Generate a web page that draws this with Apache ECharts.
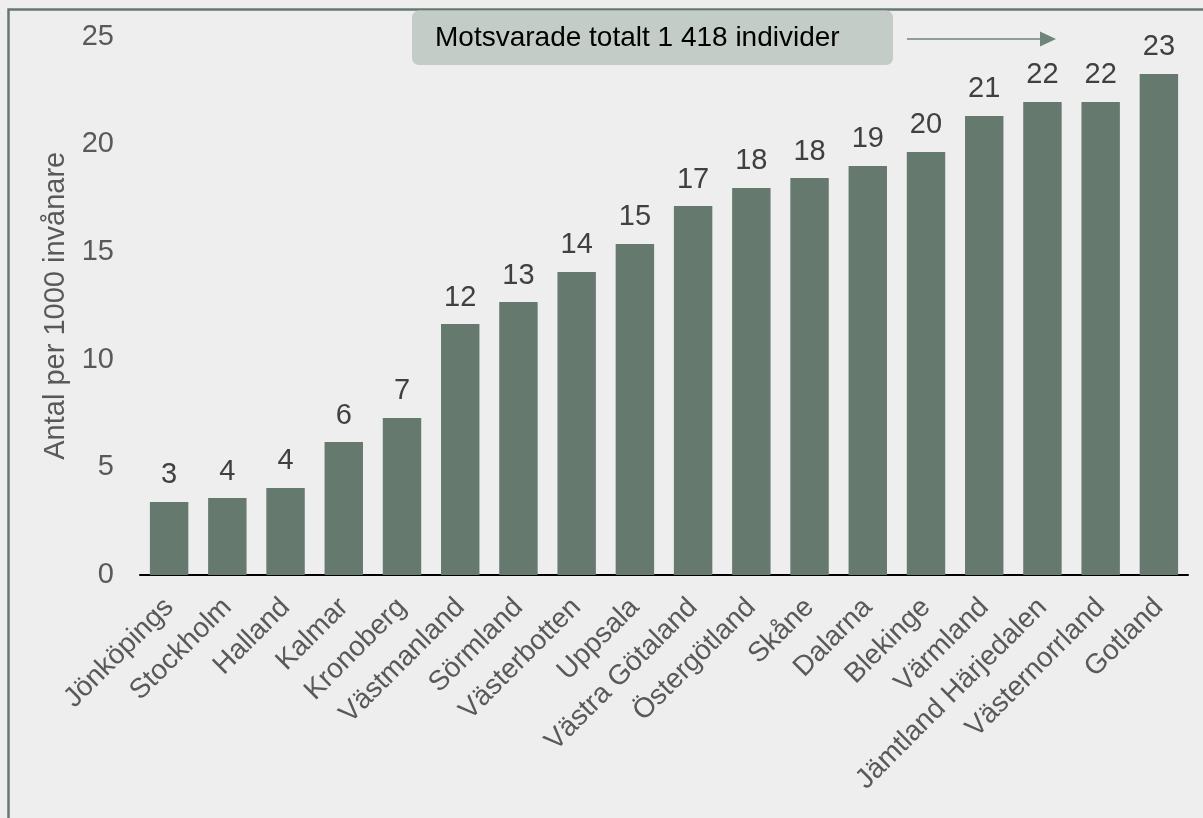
<!DOCTYPE html>
<html>
<head>
<meta charset="utf-8">
<script src="https://cdn.jsdelivr.net/npm/echarts@6/dist/echarts.min.js"></script>
<style>
html,body{margin:0;padding:0;background:#eeeeee;}
#chart{width:1203px;height:818px;}
</style>
</head>
<body>
<div id="chart"></div>
<script>
var categories = ['Jönköpings','Stockholm','Halland','Kalmar','Kronoberg','Västmanland','Sörmland','Västerbotten','Uppsala','Västra Götaland','Östergötland','Skåne','Dalarna','Blekinge','Värmland','Jämtland Härjedalen','Västernorrland','Gotland'];
var values = [3.39,3.57,4.04,6.17,7.29,11.65,12.67,14.07,15.37,17.13,17.97,18.43,18.99,19.64,21.31,21.96,21.96,23.26];
var yTicks = [0,5,10,15,20,25];
var yAxisName = 'Antal per 1000 invånare';
var noteText = 'Motsvarade totalt 1 418 individer';

var chart = echarts.init(document.getElementById('chart'), null, {renderer:'canvas'});
var font = 'Arial, "Liberation Sans", sans-serif';
chart.setOption({
  backgroundColor: '#eeeeee',
  animation: false,
  grid: {left: 140, right: 15, top: 36.5, bottom: 243, containLabel: false},
  xAxis: {
    type: 'category',
    data: categories,
    axisLine: {show: true, lineStyle: {color: '#000000', width: 2}},
    axisTick: {show: false},
    axisLabel: {rotate: 45, interval: 0, margin: 28, color: '#595959', fontSize: 28, fontFamily: font}
  },
  yAxis: {
    type: 'value',
    min: yTicks[0], max: yTicks[yTicks.length-1], interval: 5,
    name: yAxisName,
    nameLocation: 'middle',
    nameGap: 70,
    nameRotate: 90,
    nameTextStyle: {color: '#595959', fontSize: 29, fontFamily: font},
    axisLine: {show: false},
    axisTick: {show: false},
    splitLine: {show: false},
    axisLabel: {margin: 26, color: '#595959', fontSize: 29, fontFamily: font}
  },
  series: [{
    type: 'bar',
    data: values,
    barCategoryGap: '34%',
    itemStyle: {color: '#65796f'},
    label: {
      show: true, position: 'top', distance: 12,
      color: '#404040', fontSize: 29, fontFamily: font,
      formatter: function(p){ return Math.round(p.value); }
    }
  }],
  graphic: [
    {type: 'rect', shape: {x: 8.5, y: 9.5, width: 1400, height: 1000}, style: {fill: 'none', stroke: '#66796f', lineWidth: 2.5}, z: 100},
    {type: 'rect', shape: {x: 412, y: 10.5, width: 481, height: 54.5, r: 7}, style: {fill: '#c3ccc6'}, z: 100},
    {type: 'text', x: 435, y: 38, style: {text: noteText, fill: '#000000', fontSize: 28, fontFamily: font, verticalAlign: 'middle', align: 'left'}, z: 101},
    {type: 'line', shape: {x1: 907, y1: 39, x2: 1041, y2: 39}, style: {stroke: '#8b9f94', lineWidth: 2}, z: 101},
    {type: 'polygon', shape: {points: [[1040,31.5],[1056,39],[1040,46.5]]}, style: {fill: '#6f8579'}, z: 101}
  ]
});
</script>
</body>
</html>
